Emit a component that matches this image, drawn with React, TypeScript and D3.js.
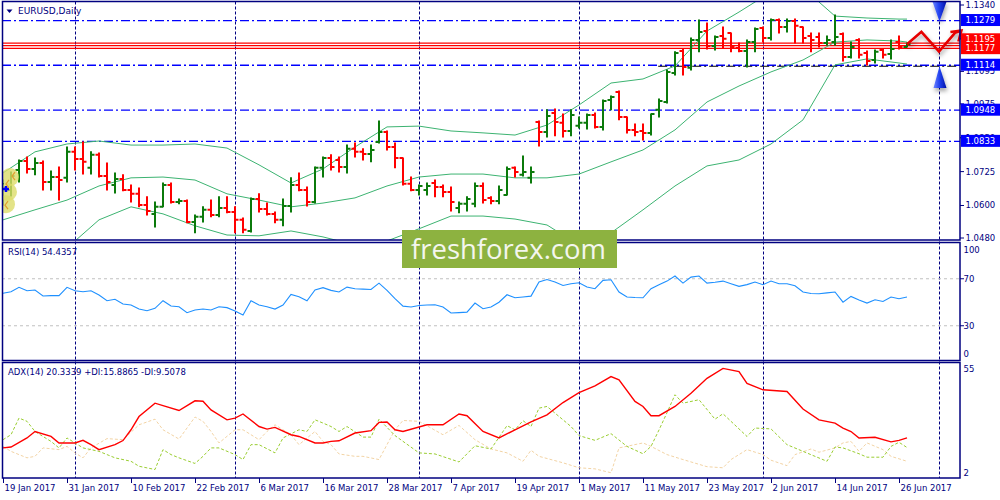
import React, { useEffect, useRef } from "react";
import * as d3 from "d3";

// ---------- data ----------
const dateLabels = ["19 Jan 2017","31 Jan 2017","10 Feb 2017","22 Feb 2017","6 Mar 2017","16 Mar 2017","28 Mar 2017","7 Apr 2017","19 Apr 2017","1 May 2017","11 May 2017","23 May 2017","2 Jun 2017","14 Jun 2017","26 Jun 2017"];
const dateIdx = [0,8,16,24,32,40,48,56,64,72,80,88,96,104,112];
const monthStartIdx = [9,29,52,72,95,117];

const opens = [1.0639,1.0657,1.0731,1.0764,1.0735,1.0757,1.0687,1.0705,1.0702,1.0798,1.0772,1.0739,1.0787,1.0709,1.0676,1.0698,1.0657,1.0643,1.0602,1.0569,1.0595,1.0676,1.0613,1.0617,1.0539,1.0558,1.0584,1.0565,1.0591,1.0576,1.0547,1.0506,1.0624,1.0587,1.0569,1.0547,1.0598,1.0676,1.0657,1.0613,1.0739,1.0775,1.0768,1.0742,1.0809,1.0798,1.0790,1.0834,1.0871,1.0816,1.0775,1.0680,1.0657,1.0657,1.0683,1.0668,1.0650,1.0591,1.0606,1.0606,1.0672,1.0628,1.0617,1.0639,1.0739,1.0713,1.0702,1.0908,1.0871,1.0941,1.0905,1.0875,1.0894,1.0905,1.0934,1.0890,1.0989,1.1019,1.0927,1.0879,1.0875,1.0868,1.0953,1.0982,1.1089,1.1170,1.1108,1.1211,1.1244,1.1189,1.1226,1.1237,1.1181,1.1170,1.1203,1.1255,1.1218,1.1285,1.1259,1.1281,1.1259,1.1226,1.1222,1.1200,1.1203,1.1233,1.1148,1.1211,1.1163,1.1137,1.1174,1.1159,1.1203,1.1185];
const highs = [1.0694,1.0724,1.0768,1.0779,1.0775,1.0764,1.0727,1.0742,1.0816,1.0816,1.0834,1.0798,1.0794,1.0757,1.0720,1.0713,1.0676,1.0665,1.0632,1.0613,1.0683,1.0683,1.0624,1.0620,1.0565,1.0595,1.0620,1.0632,1.0632,1.0595,1.0554,1.0628,1.0643,1.0609,1.0576,1.0624,1.0702,1.0720,1.0668,1.0742,1.0779,1.0787,1.0779,1.0823,1.0831,1.0809,1.0823,1.0912,1.0875,1.0831,1.0775,1.0705,1.0676,1.0683,1.0694,1.0676,1.0668,1.0613,1.0632,1.0683,1.0683,1.0632,1.0672,1.0742,1.0742,1.0783,1.0742,1.0912,1.0953,1.0956,1.0938,1.0953,1.0927,1.0938,1.0941,1.0989,1.1004,1.1023,1.0927,1.0901,1.0901,1.0938,1.0993,1.1100,1.1167,1.1178,1.1218,1.1285,1.1274,1.1226,1.1259,1.1237,1.1200,1.1211,1.1255,1.1259,1.1288,1.1288,1.1288,1.1288,1.1259,1.1237,1.1237,1.1226,1.1303,1.1237,1.1203,1.1215,1.1170,1.1174,1.1178,1.1211,1.1226,1.1200];
const lows = [1.0602,1.0635,1.0687,1.0720,1.0713,1.0657,1.0657,1.0620,1.0687,1.0731,1.0716,1.0716,1.0705,1.0657,1.0646,1.0654,1.0613,1.0595,1.0565,1.0521,1.0595,1.0609,1.0606,1.0536,1.0499,1.0539,1.0558,1.0558,1.0573,1.0499,1.0499,1.0502,1.0576,1.0565,1.0536,1.0525,1.0576,1.0654,1.0598,1.0609,1.0705,1.0731,1.0724,1.0720,1.0779,1.0768,1.0761,1.0831,1.0805,1.0739,1.0676,1.0654,1.0639,1.0639,1.0632,1.0632,1.0580,1.0573,1.0580,1.0595,1.0609,1.0606,1.0606,1.0639,1.0705,1.0709,1.0683,1.0820,1.0853,1.0857,1.0853,1.0857,1.0886,1.0882,1.0886,1.0879,1.0953,1.0916,1.0868,1.0857,1.0842,1.0860,1.0927,1.0978,1.1082,1.1082,1.1100,1.1167,1.1178,1.1174,1.1181,1.1167,1.1167,1.1111,1.1167,1.1203,1.1211,1.1237,1.1240,1.1200,1.1200,1.1167,1.1185,1.1192,1.1192,1.1133,1.1144,1.1144,1.1119,1.1126,1.1144,1.1141,1.1178,1.1185];
const closes = [1.0665,1.0709,1.0764,1.0735,1.0757,1.0687,1.0705,1.0694,1.0798,1.0772,1.0761,1.0787,1.0709,1.0687,1.0698,1.0657,1.0643,1.0602,1.0580,1.0595,1.0676,1.0613,1.0617,1.0539,1.0558,1.0584,1.0565,1.0591,1.0576,1.0547,1.0510,1.0624,1.0587,1.0569,1.0547,1.0598,1.0676,1.0657,1.0613,1.0739,1.0775,1.0742,1.0742,1.0809,1.0798,1.0790,1.0805,1.0871,1.0816,1.0775,1.0680,1.0657,1.0672,1.0672,1.0668,1.0650,1.0613,1.0606,1.0624,1.0672,1.0620,1.0617,1.0657,1.0735,1.0724,1.0724,1.0724,1.0871,1.0930,1.0908,1.0875,1.0934,1.0905,1.0934,1.0890,1.0986,1.1000,1.0927,1.0879,1.0871,1.0868,1.0938,1.0986,1.1093,1.1163,1.1111,1.1211,1.1240,1.1189,1.1222,1.1215,1.1185,1.1170,1.1203,1.1251,1.1218,1.1285,1.1259,1.1281,1.1263,1.1218,1.1211,1.1200,1.1211,1.1222,1.1148,1.1185,1.1156,1.1133,1.1167,1.1156,1.1178,1.1185,1.1196];

const bandIdx = [0,4,8,12,16,20,24,28,32,36,40,44,48,52,56,60,64,68,72,76,80,84,88,92,96,100,104,108,112,113];
const upperBand = [1.0720,1.0798,1.0827,1.0838,1.0823,1.0823,1.0827,1.0812,1.0750,1.0683,1.0735,1.0816,1.0890,1.0893,1.0875,1.0868,1.0860,1.0897,1.0971,1.1052,1.1067,1.1115,1.1244,1.1314,1.1388,1.1403,1.1299,1.1292,1.1288,1.1288];
const middleBand = [1.0547,1.0584,1.0620,1.0672,1.0702,1.0705,1.0694,1.0643,1.0620,1.0595,1.0609,1.0628,1.0672,1.0705,1.0716,1.0716,1.0702,1.0702,1.0716,1.0761,1.0805,1.0879,1.0982,1.1041,1.1093,1.1137,1.1203,1.1211,1.1207,1.1203];
const lowerBand = [1.0370,1.0392,1.0443,1.0547,1.0595,1.0569,1.0525,1.0491,1.0488,1.0506,1.0484,1.0454,1.0469,1.0514,1.0561,1.0561,1.0550,1.0528,1.0454,1.0499,1.0584,1.0672,1.0746,1.0768,1.0827,1.0916,1.1119,1.1141,1.1126,1.1122];

const rsi = [57.6,58.9,62.7,59.8,60.4,55.3,55.6,55.6,62.7,59.8,58.9,59.8,56.1,51.3,52.5,48.5,47.6,44.2,42.8,44.8,51.3,46.8,46.2,41.1,43.4,44.2,43.4,46.2,45.4,42.5,39.1,51.3,47.6,46.2,44.2,47.6,56.7,54.7,51.3,60.4,62.4,60.1,58.7,62.9,61.5,61.2,60.9,66.3,60.1,53,46.7,45.9,47.3,47.6,47.9,45.9,40.8,41.2,41.6,49.3,44.5,45.9,50,56.4,53.8,54.5,55.2,67.2,69.4,67.2,64.3,65.7,66.6,63,61.5,68.6,69.1,58.7,54.4,54,53.8,61.5,64.9,68,72.3,66.3,71.4,72.3,66.3,67,68,65.7,63.5,65,67.2,64.9,68,65.7,65.7,64,58.7,57.5,57.2,58,58.7,50.1,55,52,49.3,52.1,50.7,54.4,53,54.4357];
const rsiLevels = [70, 30];
const rsiAxisTicks = [100, 70, 30, 0];

const adxIdx = [0,1,3,4,6,7,9,10,11,12,14,15,16,17,19,20,22,24,25,26,28,29,30,32,33,34,36,37,39,40,41,42,44,46,47,48,49,50,53,55,57,58,60,62,64,66,68,70,72,74,76,77,79,80,81,82,84,86,88,90,92,93,95,98,100,102,104,105,106,107,109,111,112,113];
const adxVal = [15.7,16.1,20.3,23.3,21,18,18,19.2,17.2,14.9,17.2,19.1,24.1,30.2,36.4,35.3,33,37.5,37.3,33.3,28.7,29.5,31.4,25.6,24.4,25.2,21.8,21,18,18,18.7,19,22.6,23.7,27.5,27.7,24.1,23.3,26.4,26.4,31.4,30.6,23.3,20.3,24.1,27.7,31,36.7,41.3,44.4,48.7,47.2,37.2,34.9,30.6,30.6,34.9,41,47.9,52.5,51,45.6,42.6,41.8,33.7,28.7,27.2,24.9,23.3,20.3,20.6,18.5,19.2,20.3339];
const plusIdx = [0,1,2,3,4,6,7,8,9,10,12,14,16,17,19,20,21,22,24,25,26,27,29,30,31,32,34,35,37,38,39,40,41,42,43,45,46,47,49,52,54,57,59,61,63,64,65,66,67,68,71,72,74,76,78,80,81,82,83,84,85,87,89,90,93,94,96,98,100,103,104,105,107,108,110,111,112,113];
const plusVal = [19.5,21.8,29.5,28,23.3,18.7,15.7,20.3,18,15.7,14.1,11.1,9.5,7.2,5.7,14.9,12.6,11.1,8.5,11.8,15.7,15.7,12.6,10.3,17.2,17.2,13.4,20.3,24.1,23.3,28.7,27.2,25.6,23.3,25.6,20.7,20.7,29,21.4,13.4,12.9,9.2,16.7,15.2,26,24.1,28.3,25.6,34.1,34.9,25.6,21.4,19.2,22.3,16.4,13,16.4,24,32,40.3,36.4,38,29,31.5,21,24.9,24.5,17.2,14.1,9.5,16.1,15.7,13,11.4,11.4,16.4,18.3,15.8865];
const minusIdx = [0,1,3,4,5,7,8,9,10,11,13,15,17,19,20,22,24,25,26,27,29,30,32,33,34,36,37,39,40,41,42,44,45,47,49,50,52,55,57,59,61,63,65,66,67,70,72,74,76,77,80,81,83,85,88,90,91,93,95,96,98,99,101,102,104,105,106,107,108,110,111,113];
const minusVal = [16.4,14.1,11.1,11.8,15.7,14.9,16.4,13.4,11.1,15.7,20,19.5,26.4,29,24.1,19.8,30,28,23.3,18,24.1,24.1,19.5,23.3,26.4,21.8,17.2,23.3,18.7,17.2,12.9,11.8,11.8,10.3,24.1,28.4,28,21.8,26.1,19.5,15.2,13.4,9.5,14.6,11.8,8.8,6.5,6,4.2,15.7,18,16.4,12.6,10.3,7,6.5,10.3,14.9,12.6,10,7.5,12.6,15.2,13.7,15.7,18,18.7,14.1,18,14.9,11.8,9.5078];

const priceTicks = [1.1340,1.1215,1.1095,1.0975,1.0850,1.0725,1.0600,1.0480];
const blueLevels = [1.1279,1.1114,1.0948,1.0833];
const redLines = [1.1199,1.1190,1.1180];
const redLabels = [1.1195,1.1177];
const yellowLines = [ { price: 1.1294, from: 87.25, to: 119.4 }, { price: 1.1114, from: 81.9, to: 119.4 } ];
const zigIdx = [113,114.8,117,119,119.8];
const zigPrice = [1.1195,1.1241,1.1168,1.1237,1.1246];
const arrowIdx = 117;
const arrowDown = { tip: 1.1279, base: 1.1352 };
const arrowUp = { tip: 1.1114, base: 1.1034 };

const NAVY = "#000080";
const FONT = "DejaVu Sans, Verdana, sans-serif";

export default function App() {
  const ref = useRef<SVGSVGElement>(null);
  useEffect(() => {
    document.body.style.margin = "0";
    const svg = d3.select(ref.current);
    svg.selectAll("*").remove();

    const L = 2, R = 960;
    const mainTop = 1.5, mainBot = 240;
    const rsiTop = 242.5, rsiBot = 360.5;
    const adxTop = 362.5, adxBot = 478;

    const x = d3.scaleLinear().domain([0, 113]).range([3, 907]);
    const y = d3.scaleLinear().domain([1.1340, 1.0480]).range([5, 238]);
    const yR = d3.scaleLinear().domain([0, 100]).range([361, 243.5]);
    const yA = d3.scaleLinear().domain([2, 55]).range([477.5, 363]);

    const defs = svg.append("defs");
    defs.append("clipPath").attr("id", "clipMain").append("rect").attr("x", L).attr("y", mainTop).attr("width", R - L).attr("height", mainBot - mainTop);
    defs.append("clipPath").attr("id", "clipRsi").append("rect").attr("x", L).attr("y", rsiTop).attr("width", R - L).attr("height", rsiBot - rsiTop);
    defs.append("clipPath").attr("id", "clipAdx").append("rect").attr("x", L).attr("y", adxTop).attr("width", R - L).attr("height", adxBot - adxTop);
    const f = defs.append("filter").attr("id", "shadow").attr("x", "-50%").attr("y", "-50%").attr("width", "200%").attr("height", "200%");
    f.append("feDropShadow").attr("dx", 1).attr("dy", 3).attr("stdDeviation", 2).attr("flood-color", "#000").attr("flood-opacity", 0.35);
    const gr = defs.append("linearGradient").attr("id", "arrowGrad").attr("x1", 0).attr("x2", 1).attr("y1", 0).attr("y2", 0);
    gr.append("stop").attr("offset", "0%").attr("stop-color", "#6F86FF");
    gr.append("stop").attr("offset", "45%").attr("stop-color", "#2343F0");
    gr.append("stop").attr("offset", "100%").attr("stop-color", "#0012A8");

    svg.append("rect").attr("width", 1000).attr("height", 500).attr("fill", "#fff");

    // vertical month grid
    svg.append("g").selectAll("line").data(monthStartIdx).join("line")
      .attr("x1", d => x(d) + 0.5).attr("x2", d => x(d) + 0.5)
      .attr("y1", mainTop).attr("y2", adxBot)
      .attr("stroke", NAVY).attr("stroke-width", 1).attr("stroke-dasharray", "3,2");

    // ---------- main panel ----------
    const gm = svg.append("g").attr("clip-path", "url(#clipMain)");

    gm.selectAll("line.blue").data(blueLevels).join("line").attr("class", "blue")
      .attr("x1", L).attr("x2", R).attr("y1", d => y(d) - 1).attr("y2", d => y(d) - 1)
      .attr("stroke", "#0000FF").attr("stroke-width", 1.3).attr("stroke-dasharray", "9,3,2,3");

    gm.selectAll("line.red").data(redLines).join("line").attr("class", "red")
      .attr("x1", L).attr("x2", R).attr("y1", d => y(d)).attr("y2", d => y(d))
      .attr("stroke", "#FF0000").attr("stroke-width", 1.2);

    gm.selectAll("line.yellow").data(yellowLines).join("line").attr("class", "yellow")
      .attr("x1", d => x(d.from)).attr("x2", d => x(d.to))
      .attr("y1", d => y(d.price)).attr("y2", d => y(d.price))
      .attr("stroke", "#FFFF00").attr("stroke-width", 3.5).attr("filter", "url(#shadow)");
    gm.append("line")
      .attr("x1", x(yellowLines[1].from)).attr("x2", x(yellowLines[1].to))
      .attr("y1", y(yellowLines[1].price)).attr("y2", y(yellowLines[1].price))
      .attr("stroke", "#000").attr("stroke-width", 1.2).attr("stroke-dasharray", "9,3,2,3");

    const bandLine = d3.line<number>().x((d, k) => x(bandIdx[k])).y(d => y(d));
    [upperBand, middleBand, lowerBand].forEach(b => {
      gm.append("path").attr("d", bandLine(b)).attr("fill", "none").attr("stroke", "#3CB371").attr("stroke-width", 1);
    });

    const bars = gm.append("g").selectAll("g").data(d3.range(opens.length)).join("g")
      .attr("stroke", i => closes[i] >= opens[i] ? "#0B7A0B" : "#FF0000").attr("stroke-width", 2);
    bars.append("line").attr("x1", i => x(i)).attr("x2", i => x(i)).attr("y1", i => y(highs[i]) - 0.5).attr("y2", i => y(lows[i]) + 0.5);
    bars.append("line").attr("x1", i => x(i) - 3.5).attr("x2", i => x(i)).attr("y1", i => y(opens[i])).attr("y2", i => y(opens[i]));
    bars.append("line").attr("x1", i => x(i)).attr("x2", i => x(i) + 3.5).attr("y1", i => y(closes[i])).attr("y2", i => y(closes[i]));

    // yellow object markers on the left
    const markerPrices = [1.0705, 1.0650, 1.0605];
    gm.selectAll("circle.mk").data(markerPrices).join("circle").attr("class", "mk")
      .attr("cx", (d, k) => x(1) - 1 - k * 2).attr("cy", d => y(d)).attr("r", 9)
      .attr("fill", "#DCDC6A").attr("opacity", 0.8);
    gm.append("path").attr("d", `M${x(1) - 8},${y(1.0650) - 3}h6M${x(1) - 5},${y(1.0650) - 6}v6`)
      .attr("stroke", "#0000FF").attr("stroke-width", 2.5);
    gm.append("path").attr("d", `M${x(1) + 4},${y(1.0705) - 5}l-3,4l3,4M${x(1) - 2},${y(1.0650) - 12}l-3,4l3,4M${x(1) - 3},${y(1.0605) - 3}l-3,4l3,4`)
      .attr("stroke", "#E0A030").attr("fill", "none").attr("stroke-width", 1.2);

    // ---------- RSI panel ----------
    const gr2 = svg.append("g").attr("clip-path", "url(#clipRsi)");
    gr2.selectAll("line.lvl").data(rsiLevels).join("line").attr("class", "lvl")
      .attr("x1", L).attr("x2", R).attr("y1", d => yR(d)).attr("y2", d => yR(d))
      .attr("stroke", "#C0C0C0").attr("stroke-width", 1).attr("stroke-dasharray", "3,3");
    const rsiLine = d3.line<number>().x((d, i) => x(i)).y(d => yR(d));
    gr2.append("path").attr("d", rsiLine(rsi)).attr("fill", "none").attr("stroke", "#1E90FF").attr("stroke-width", 1.1);

    // ---------- ADX panel ----------
    const ga = svg.append("g").attr("clip-path", "url(#clipAdx)");
    const mk = (idx: number[]) => d3.line<number>().x((d, k) => x(idx[k])).y(d => yA(d));
    ga.append("path").attr("d", mk(minusIdx)(minusVal)).attr("fill", "none").attr("stroke", "#F2D3A4").attr("stroke-width", 1).attr("stroke-dasharray", "3,2");
    ga.append("path").attr("d", mk(plusIdx)(plusVal)).attr("fill", "none").attr("stroke", "#9ACD32").attr("stroke-width", 1).attr("stroke-dasharray", "3,2");
    ga.append("path").attr("d", mk(adxIdx)(adxVal)).attr("fill", "none").attr("stroke", "#FF0000").attr("stroke-width", 1.4);

    // ---------- annotations ----------
    const zig = d3.line<number>().x((d, k) => x(zigIdx[k])).y(d => y(d));
    const tipX = x(zigIdx[zigIdx.length - 1]), tipY = y(zigPrice[zigPrice.length - 1]);
    const za = svg.append("g").attr("filter", "url(#shadow)");
    za.append("path").attr("d", zig(zigPrice)).attr("fill", "none").attr("stroke", "#E60000").attr("stroke-width", 2.6).attr("stroke-linejoin", "miter");
    za.append("path").attr("d", `M${tipX - 11},${tipY + 1.5}L${tipX},${tipY}L${tipX - 3},${tipY + 11}`)
      .attr("fill", "none").attr("stroke", "#E60000").attr("stroke-width", 2.6);

    const ax = x(arrowIdx) + 0.5;
    const aa = svg.append("g").attr("filter", "url(#shadow)");
    aa.append("path").attr("d", `M${ax - 7},${y(arrowDown.base)}L${ax + 7},${y(arrowDown.base)}L${ax},${y(arrowDown.tip)}Z`).attr("fill", "url(#arrowGrad)");
    aa.append("path").attr("d", `M${ax - 6},${y(arrowUp.base)}L${ax + 7},${y(arrowUp.base)}L${ax},${y(arrowUp.tip)}Z`).attr("fill", "url(#arrowGrad)");

    // ---------- panel borders ----------
    [[mainTop, mainBot], [rsiTop, rsiBot], [adxTop, adxBot]].forEach(([t, b]) => {
      svg.append("rect").attr("x", L + 0.5).attr("y", t).attr("width", R - L - 0.5).attr("height", b - t)
        .attr("fill", "none").attr("stroke", NAVY).attr("stroke-width", 1.5);
    });

    // ---------- axes ----------
    const txt = (g: any) => g.attr("font-family", FONT).attr("font-size", 8.5).attr("fill", NAVY);
    const pa = svg.append("g");
    pa.selectAll("line").data(priceTicks).join("line")
      .attr("x1", R).attr("x2", R + 4).attr("y1", d => y(d)).attr("y2", d => y(d)).attr("stroke", NAVY);
    pa.selectAll("text").data(priceTicks).join("text").call(txt)
      .attr("x", 965.5).attr("y", d => y(d)).attr("dominant-baseline", "central").text(d => d.toFixed(4));

    const bl = svg.append("g").selectAll("g").data(blueLevels).join("g");
    bl.append("rect").attr("x", 961).attr("width", 39).attr("height", 12).attr("y", d => y(d) - 7.5).attr("fill", "#0000FF");
    bl.append("text").attr("x", 965.5).attr("y", d => y(d) - 1.5).attr("dominant-baseline", "central")
      .attr("font-family", FONT).attr("font-size", 8.5).attr("fill", "#fff").text(d => d.toFixed(4));
    const shifts = [-5, -1];
    const rl = svg.append("g").selectAll("g").data(redLabels).join("g");
    rl.append("rect").attr("x", 961).attr("width", 39).attr("height", 12).attr("y", (d, k) => y(d) + shifts[k] - 6).attr("fill", "#FF0000");
    rl.append("text").attr("x", 965.5).attr("y", (d, k) => y(d) + shifts[k]).attr("dominant-baseline", "central")
      .attr("font-family", FONT).attr("font-size", 8.5).attr("fill", "#fff").text(d => d.toFixed(4));

    // RSI axis
    const rOff = (d: number) => (d === 100 ? 6 : d === 0 ? -7 : 0);
    svg.append("g").selectAll("text").data(rsiAxisTicks).join("text").call(txt)
      .attr("x", 963.5).attr("y", d => yR(d) + rOff(d)).attr("dominant-baseline", "central").text(d => String(d));
    svg.append("g").selectAll("line").data(rsiLevels).join("line")
      .attr("x1", R).attr("x2", R + 4).attr("y1", d => yR(d)).attr("y2", d => yR(d)).attr("stroke", NAVY);
    // ADX axis
    const adxAxis = [55, 2];
    svg.append("g").selectAll("text").data(adxAxis).join("text").call(txt)
      .attr("x", 963.5).attr("y", d => yA(d) + (d === 55 ? 6 : -5)).attr("dominant-baseline", "central").text(d => String(d));

    // time axis
    svg.append("g").selectAll("line").data(dateIdx).join("line")
      .attr("x1", d => x(d) + 0.5).attr("x2", d => x(d) + 0.5).attr("y1", adxBot).attr("y2", adxBot + 5).attr("stroke", NAVY);
    svg.append("g").selectAll("text").data(dateIdx).join("text").call(txt)
      .attr("x", d => x(d) + 1.5).attr("y", 491).text((d, k) => dateLabels[k]);

    // titles
    svg.append("path").attr("d", "M6.5,9.5h6l-3,3.5z").attr("fill", NAVY);
    svg.append("text").call(txt).attr("font-size", 9).attr("x", 18).attr("y", 14).text("EURUSD,Daily");
    svg.append("text").call(txt).attr("x", 8).attr("y", 254.5).text("RSI(14) 54.4357");
    svg.append("text").call(txt).attr("x", 8).attr("y", 374.5).text("ADX(14) 20.3339 +DI:15.8865 -DI:9.5078");

    // watermark
    svg.append("rect").attr("x", 402).attr("y", 230).attr("width", 215).attr("height", 38).attr("fill", "#8DB240");
    svg.append("text").attr("x", 411).attr("y", 258.5).attr("font-family", "Open Sans, sans-serif").attr("font-size", 28)
      .attr("fill", "#F4F6EE").attr("textLength", 195).attr("lengthAdjust", "spacingAndGlyphs").text("freshforex.com");
  }, []);

  return <svg ref={ref} width={1000} height={500} style={{ position: "absolute", left: 0, top: 0, display: "block" }} />;
}
